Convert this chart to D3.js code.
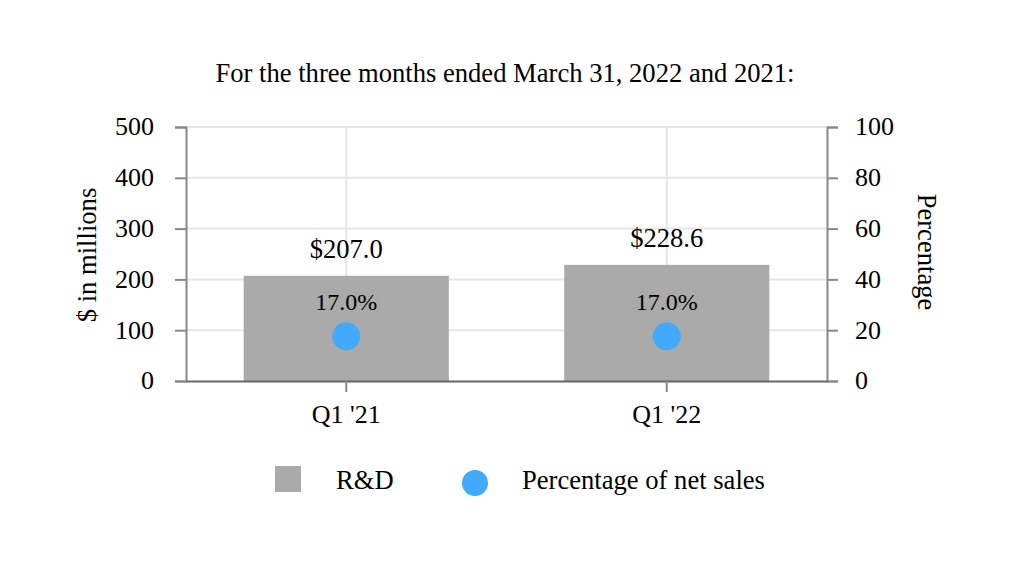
<!DOCTYPE html>
<html>
<head>
<meta charset="utf-8">
<script src="https://cdn.jsdelivr.net/npm/d3@7"></script>
<style>
  body { margin: 0; background: #fff; }
</style>
</head>
<body>
<div id="chart"></div>
<script>
// data
var categories = ["Q1 '21", "Q1 '22"];
var rdValues = [207.0, 228.6];
var pctValues = [17.0, 17.0];
var leftTicks = [0, 100, 200, 300, 400, 500];
var rightTicks = [0, 20, 40, 60, 80, 100];

var W = 1012, H = 570;
var FONT = "'Liberation Serif', 'Times New Roman', Times, serif";
var plot = {left: 186, right: 827, top: 127, bottom: 381};

var svg = d3.select("#chart").append("svg")
            .attr("width", W)
            .attr("height", H)
            .style("font-family", FONT);

var x = d3.scaleBand().domain(categories).range([plot.left, plot.right]).paddingInner(0.36).paddingOuter(0.18);
var xc = function(d){ return x(d) + x.bandwidth() / 2; };
var yL = d3.scaleLinear().domain([0, 500]).range([plot.bottom, plot.top]);
var yR = d3.scaleLinear().domain([0, 100]).range([plot.bottom, plot.top]);

// title
svg.append("text")
   .attr("x", 505).attr("y", 82)
   .attr("text-anchor", "middle")
   .style("font-family", FONT)
   .style("font-size", "26.6px")
   .text("For the three months ended March 31, 2022 and 2021:");

// grid
var grid = svg.append("g").attr("id", "gridGroup");
grid.selectAll("line.h").data(leftTicks.slice(1)).enter().append("line")
    .attr("x1", plot.left).attr("x2", plot.right)
    .attr("y1", function(d){ return yL(d); }).attr("y2", function(d){ return yL(d); })
    .attr("stroke", "#e6e6e6").attr("stroke-width", 2);
grid.selectAll("line.v").data(categories).enter().append("line")
    .attr("x1", xc).attr("x2", xc)
    .attr("y1", plot.top).attr("y2", plot.bottom)
    .attr("stroke", "#e6e6e6").attr("stroke-width", 2);

// bars
svg.append("g").attr("id", "barGroup")
   .selectAll("rect").data(categories).enter().append("rect")
   .attr("x", function(d){ return x(d); })
   .attr("width", x.bandwidth())
   .attr("y", function(d, i){ return yL(rdValues[i]); })
   .attr("height", function(d, i){ return plot.bottom - yL(rdValues[i]); })
   .attr("fill", "#aaaaaa");

// left axis
var axL = svg.append("g").attr("transform", "translate(" + plot.left + ",0)")
   .call(d3.axisLeft(yL).tickValues(leftTicks).tickSize(11).tickPadding(21));
axL.select(".domain").attr("stroke", "#888").attr("stroke-width", 2);
axL.selectAll(".tick line").attr("stroke", "#888").attr("stroke-width", 2);
axL.selectAll(".tick text").style("font-family", FONT).style("font-size", "26px").attr("dy", "0.3em");

// right axis
var axR = svg.append("g").attr("transform", "translate(" + plot.right + ",0)")
   .call(d3.axisRight(yR).tickValues(rightTicks).tickSize(11).tickPadding(17));
axR.select(".domain").attr("stroke", "#888").attr("stroke-width", 2);
axR.selectAll(".tick line").attr("stroke", "#888").attr("stroke-width", 2);
axR.selectAll(".tick text").style("font-family", FONT).style("font-size", "26px").attr("dy", "0.3em");

// bottom axis
var axB = svg.append("g").attr("transform", "translate(0," + plot.bottom + ")")
   .call(d3.axisBottom(x).tickSize(11).tickPadding(13).tickSizeOuter(0));
axB.select(".domain").attr("stroke", "#666").attr("stroke-width", 2);
axB.selectAll(".tick line").attr("stroke", "#888").attr("stroke-width", 2);
axB.selectAll(".tick text").style("font-family", FONT).style("font-size", "26px");

// axis titles
svg.append("text")
   .attr("transform", "translate(96,255) rotate(-90)")
   .attr("text-anchor", "middle")
   .style("font-family", FONT)
   .style("font-size", "26.6px")
   .text("$ in millions");
svg.append("text")
   .attr("transform", "translate(918,252) rotate(90)")
   .attr("text-anchor", "middle")
   .style("font-family", FONT)
   .style("font-size", "26.6px")
   .text("Percentage");

// bar labels
svg.append("g").selectAll("text").data(categories).enter().append("text")
   .attr("x", xc)
   .attr("y", function(d, i){ return yL(rdValues[i]) - 18; })
   .attr("text-anchor", "middle")
   .style("font-family", FONT)
   .style("font-size", "26.6px")
   .text(function(d, i){ return "$" + rdValues[i].toFixed(1); });

// percentage dots
svg.append("g").selectAll("circle").data(categories).enter().append("circle")
   .attr("cx", xc)
   .attr("cy", function(d, i){ return yR(pctValues[i]) - 1.5; })
   .attr("r", 14)
   .attr("fill", "#42aafa");
svg.append("g").selectAll("text").data(categories).enter().append("text")
   .attr("x", xc)
   .attr("y", function(d, i){ return yR(pctValues[i]) - 28; })
   .attr("text-anchor", "middle")
   .style("font-family", FONT)
   .style("font-size", "24px")
   .text(function(d, i){ return pctValues[i].toFixed(1) + "%"; });

// legend
var leg = svg.append("g").attr("id", "legendGroup");
leg.append("rect").attr("x", 275).attr("y", 466).attr("width", 26).attr("height", 26).attr("fill", "#aaaaaa");
leg.append("text").attr("x", 336).attr("y", 489).style("font-family", FONT).style("font-size", "26.6px").text("R&D");
leg.append("circle").attr("cx", 475).attr("cy", 483).attr("r", 13).attr("fill", "#42aafa");
leg.append("text").attr("x", 522).attr("y", 489).style("font-family", FONT).style("font-size", "26.6px").text("Percentage of net sales");
</script>
</body>
</html>
